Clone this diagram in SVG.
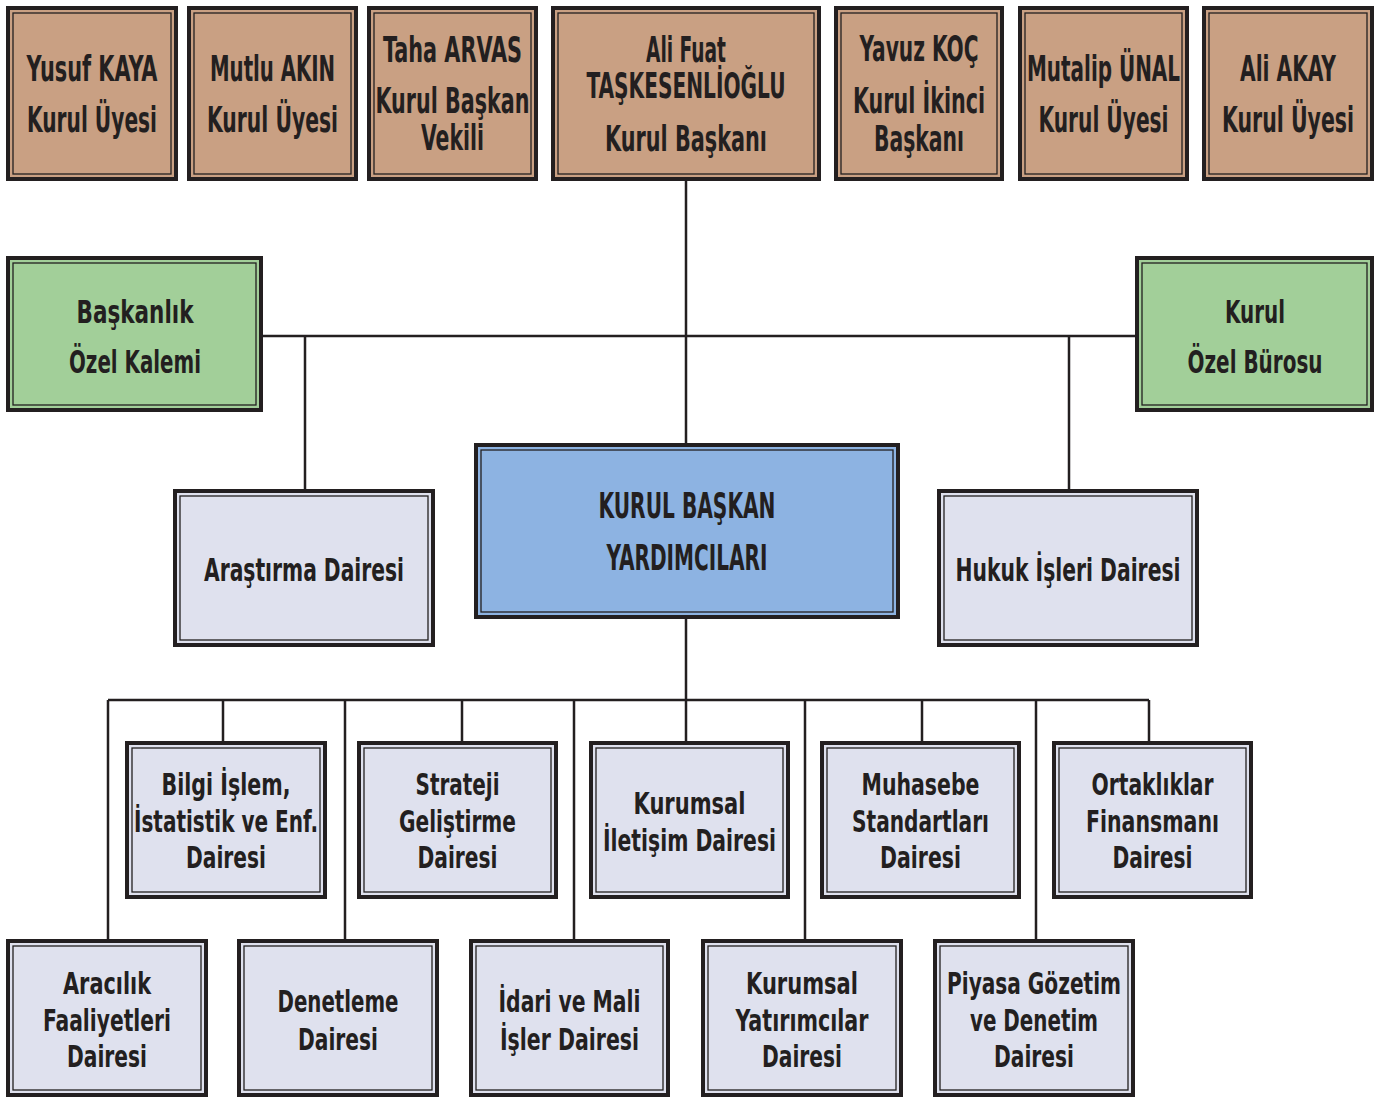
<svg xmlns="http://www.w3.org/2000/svg" width="1379" height="1099" viewBox="0 0 1379 1099">
<style>
.o{stroke:#231f20;stroke-width:4}
.i{fill:none;stroke:#231f20;stroke-width:1.3}
.tan{fill:#c9a083}.grn{fill:#a2cf99}.blu{fill:#8db3e2}.lav{fill:#dfe1ee}
text{font-family:"DejaVu Sans Condensed","DejaVu Sans",sans-serif;font-weight:bold;fill:#231f20;text-anchor:middle}
.t1{font-size:35px}.t2{font-size:32px}.t3{font-size:31px}
.c{fill:none;stroke:#231f20;stroke-width:2.5}
</style>
<rect width="1379" height="1099" fill="#ffffff"/>
<g id="connectors">
<path class="c" d="M686 181V443M263 336H1135M305 336V489M1069 336V489M686 619V700M108 700H1149M108 700V939M223 700V741M345 700V939M462 700V741M574 700V939M686 700V741M805 700V939M922 700V741M1036 700V939M1149 700V741"/>
</g>
<g id="yusuf-kaya"><rect class="o tan" x="8" y="8" width="168" height="171"/><rect class="i" x="13" y="13" width="158" height="161"/>
<text class="t1" x="92" y="81" textLength="131" lengthAdjust="spacingAndGlyphs">Yusuf KAYA</text>
<text class="t1" x="92" y="132" textLength="130" lengthAdjust="spacingAndGlyphs">Kurul Üyesi</text></g>
<g id="mutlu-akin"><rect class="o tan" x="189" y="8" width="167" height="171"/><rect class="i" x="194" y="13" width="157" height="161"/>
<text class="t1" x="272.5" y="81" textLength="125" lengthAdjust="spacingAndGlyphs">Mutlu AKIN</text>
<text class="t1" x="272.5" y="132" textLength="131" lengthAdjust="spacingAndGlyphs">Kurul Üyesi</text></g>
<g id="taha-arvas"><rect class="o tan" x="369" y="8" width="167" height="171"/><rect class="i" x="374" y="13" width="157" height="161"/>
<text class="t1" x="452.5" y="62" textLength="139" lengthAdjust="spacingAndGlyphs">Taha ARVAS</text>
<text class="t1" x="452.5" y="113" textLength="154" lengthAdjust="spacingAndGlyphs">Kurul Başkan</text>
<text class="t1" x="452.5" y="150" textLength="63" lengthAdjust="spacingAndGlyphs">Vekili</text></g>
<g id="ali-fuat"><rect class="o tan" x="553" y="8" width="266" height="171"/><rect class="i" x="558" y="13" width="256" height="161"/>
<text class="t1" x="686" y="62" textLength="80" lengthAdjust="spacingAndGlyphs">Ali Fuat</text>
<text class="t1" x="686" y="98" textLength="199" lengthAdjust="spacingAndGlyphs">TAŞKESENLİOĞLU</text>
<text class="t1" x="686" y="151" textLength="162" lengthAdjust="spacingAndGlyphs">Kurul Başkanı</text></g>
<g id="yavuz-koc"><rect class="o tan" x="836" y="8" width="166" height="171"/><rect class="i" x="841" y="13" width="156" height="161"/>
<text class="t1" x="919" y="61" textLength="119" lengthAdjust="spacingAndGlyphs">Yavuz KOÇ</text>
<text class="t1" x="919" y="113" textLength="132" lengthAdjust="spacingAndGlyphs">Kurul İkinci</text>
<text class="t1" x="919" y="151" textLength="90" lengthAdjust="spacingAndGlyphs">Başkanı</text></g>
<g id="mutalip-unal"><rect class="o tan" x="1020" y="8" width="167" height="171"/><rect class="i" x="1025" y="13" width="157" height="161"/>
<text class="t1" x="1103.5" y="81" textLength="153" lengthAdjust="spacingAndGlyphs">Mutalip ÜNAL</text>
<text class="t1" x="1103.5" y="132" textLength="130" lengthAdjust="spacingAndGlyphs">Kurul Üyesi</text></g>
<g id="ali-akay"><rect class="o tan" x="1204" y="8" width="168" height="171"/><rect class="i" x="1209" y="13" width="158" height="161"/>
<text class="t1" x="1288" y="81" textLength="96" lengthAdjust="spacingAndGlyphs">Ali AKAY</text>
<text class="t1" x="1288" y="132" textLength="132" lengthAdjust="spacingAndGlyphs">Kurul Üyesi</text></g>
<g id="baskanlik-ozel-kalemi"><rect class="o grn" x="8" y="258" width="253" height="152"/><rect class="i" x="13" y="263" width="243" height="142"/>
<text class="t2" x="135" y="323" textLength="117" lengthAdjust="spacingAndGlyphs">Başkanlık</text>
<text class="t2" x="135" y="373" textLength="132" lengthAdjust="spacingAndGlyphs">Özel Kalemi</text></g>
<g id="kurul-ozel-burosu"><rect class="o grn" x="1137" y="258" width="235" height="152"/><rect class="i" x="1142" y="263" width="225" height="142"/>
<text class="t2" x="1255" y="323" textLength="60" lengthAdjust="spacingAndGlyphs">Kurul</text>
<text class="t2" x="1255" y="373" textLength="135" lengthAdjust="spacingAndGlyphs">Özel Bürosu</text></g>
<g id="kurul-baskan-yardimcilari"><rect class="o blu" x="476" y="445" width="422" height="172"/><rect class="i" x="481" y="450" width="412" height="162"/>
<text class="t1" x="687" y="518" textLength="177" lengthAdjust="spacingAndGlyphs">KURUL BAŞKAN</text>
<text class="t1" x="687" y="570" textLength="161" lengthAdjust="spacingAndGlyphs">YARDIMCILARI</text></g>
<g id="arastirma"><rect class="o lav" x="175" y="491" width="258" height="154"/><rect class="i" x="180" y="496" width="248" height="144"/>
<text class="t2" x="304" y="581" textLength="200" lengthAdjust="spacingAndGlyphs">Araştırma Dairesi</text></g>
<g id="hukuk"><rect class="o lav" x="939" y="491" width="258" height="154"/><rect class="i" x="944" y="496" width="248" height="144"/>
<text class="t2" x="1068" y="581" textLength="225" lengthAdjust="spacingAndGlyphs">Hukuk İşleri Dairesi</text></g>
<g id="bilgi-islem"><rect class="o lav" x="127" y="743" width="198" height="154"/><rect class="i" x="132" y="748" width="188" height="144"/>
<text class="t3" x="226" y="795" textLength="129" lengthAdjust="spacingAndGlyphs">Bilgi İşlem,</text>
<text class="t3" x="226" y="832" textLength="184" lengthAdjust="spacingAndGlyphs">İstatistik ve Enf.</text>
<text class="t3" x="226" y="868" textLength="80" lengthAdjust="spacingAndGlyphs">Dairesi</text></g>
<g id="strateji"><rect class="o lav" x="359" y="743" width="197" height="154"/><rect class="i" x="364" y="748" width="187" height="144"/>
<text class="t3" x="457.5" y="795" textLength="84" lengthAdjust="spacingAndGlyphs">Strateji</text>
<text class="t3" x="457.5" y="832" textLength="117" lengthAdjust="spacingAndGlyphs">Geliştirme</text>
<text class="t3" x="457.5" y="868" textLength="80" lengthAdjust="spacingAndGlyphs">Dairesi</text></g>
<g id="kurumsal-iletisim"><rect class="o lav" x="591" y="743" width="197" height="154"/><rect class="i" x="596" y="748" width="187" height="144"/>
<text class="t3" x="689.5" y="814" textLength="112" lengthAdjust="spacingAndGlyphs">Kurumsal</text>
<text class="t3" x="689.5" y="851" textLength="173" lengthAdjust="spacingAndGlyphs">İletişim Dairesi</text></g>
<g id="muhasebe"><rect class="o lav" x="822" y="743" width="197" height="154"/><rect class="i" x="827" y="748" width="187" height="144"/>
<text class="t3" x="920.5" y="795" textLength="118" lengthAdjust="spacingAndGlyphs">Muhasebe</text>
<text class="t3" x="920.5" y="832" textLength="137" lengthAdjust="spacingAndGlyphs">Standartları</text>
<text class="t3" x="920.5" y="868" textLength="81" lengthAdjust="spacingAndGlyphs">Dairesi</text></g>
<g id="ortakliklar"><rect class="o lav" x="1054" y="743" width="197" height="154"/><rect class="i" x="1059" y="748" width="187" height="144"/>
<text class="t3" x="1152.5" y="795" textLength="122" lengthAdjust="spacingAndGlyphs">Ortaklıklar</text>
<text class="t3" x="1152.5" y="832" textLength="133" lengthAdjust="spacingAndGlyphs">Finansmanı</text>
<text class="t3" x="1152.5" y="868" textLength="80" lengthAdjust="spacingAndGlyphs">Dairesi</text></g>
<g id="aracilik"><rect class="o lav" x="8" y="941" width="198" height="154"/><rect class="i" x="13" y="946" width="188" height="144"/>
<text class="t3" x="107" y="994" textLength="88" lengthAdjust="spacingAndGlyphs">Aracılık</text>
<text class="t3" x="107" y="1031" textLength="128" lengthAdjust="spacingAndGlyphs">Faaliyetleri</text>
<text class="t3" x="107" y="1067" textLength="80" lengthAdjust="spacingAndGlyphs">Dairesi</text></g>
<g id="denetleme"><rect class="o lav" x="239" y="941" width="198" height="154"/><rect class="i" x="244" y="946" width="188" height="144"/>
<text class="t3" x="338" y="1012" textLength="121" lengthAdjust="spacingAndGlyphs">Denetleme</text>
<text class="t3" x="338" y="1050" textLength="80" lengthAdjust="spacingAndGlyphs">Dairesi</text></g>
<g id="idari-mali"><rect class="o lav" x="471" y="941" width="197" height="154"/><rect class="i" x="476" y="946" width="187" height="144"/>
<text class="t3" x="569.5" y="1012" textLength="142" lengthAdjust="spacingAndGlyphs">İdari ve Mali</text>
<text class="t3" x="569.5" y="1050" textLength="139" lengthAdjust="spacingAndGlyphs">İşler Dairesi</text></g>
<g id="kurumsal-yatirimcilar"><rect class="o lav" x="703" y="941" width="198" height="154"/><rect class="i" x="708" y="946" width="188" height="144"/>
<text class="t3" x="802" y="994" textLength="112" lengthAdjust="spacingAndGlyphs">Kurumsal</text>
<text class="t3" x="802" y="1031" textLength="133" lengthAdjust="spacingAndGlyphs">Yatırımcılar</text>
<text class="t3" x="802" y="1067" textLength="80" lengthAdjust="spacingAndGlyphs">Dairesi</text></g>
<g id="piyasa-gozetim"><rect class="o lav" x="935" y="941" width="198" height="154"/><rect class="i" x="940" y="946" width="188" height="144"/>
<text class="t3" x="1034" y="994" textLength="174" lengthAdjust="spacingAndGlyphs">Piyasa Gözetim</text>
<text class="t3" x="1034" y="1031" textLength="128" lengthAdjust="spacingAndGlyphs">ve Denetim</text>
<text class="t3" x="1034" y="1067" textLength="80" lengthAdjust="spacingAndGlyphs">Dairesi</text></g>
</svg>
